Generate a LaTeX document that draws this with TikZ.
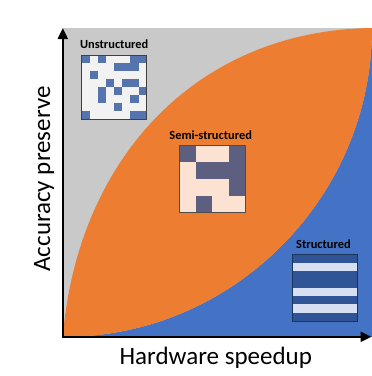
\documentclass[tikz,border=0pt]{standalone}
\usepackage{fontspec}
\setmainfont{Carlito}
\usepackage{tikz}
\usetikzlibrary{arrows.meta,positioning}
\definecolor{RegionGray}{HTML}{C9C9C9}
\definecolor{LensOrange}{HTML}{ED7D31}
\definecolor{SpeedBlue}{HTML}{4472C4}
\definecolor{CellPale}{HTML}{F2F2F2}
\definecolor{CellBlue}{HTML}{5573AC}
\definecolor{SemiSlate}{HTML}{5D5F80}
\definecolor{SemiPeach}{HTML}{FBE2D3}
\definecolor{StripeDark}{HTML}{2F5597}
\definecolor{StripeLight}{HTML}{D7E0F2}
\newcommand{\masklabel}[3]{%
  \node[font=\bfseries\fontsize{12.4}{14}\selectfont, inner sep=0pt,#3] (#1) {#2};}

\begin{document}
\begin{tikzpicture}[x=1pt, y=-1pt, >={Triangle[length=11pt,width=10pt]},
    axisline/.style={line width=2pt},
    maskedge/.style={draw=#1, line width=0.8pt},
    axistitle/.style={font=\fontsize{25}{30}\selectfont, inner sep=0pt, anchor=base}]
    \useasboundingbox (0,0) rectangle (372,376);
    % regions
    \fill[RegionGray] (62.8,28) rectangle (372,336.8);
    \fill[SpeedBlue] (62.8,336.8) .. controls (230,338) and (372,200) .. (372,28)
      -- (372,336.8) -- cycle;
    \fill[LensOrange] (62.8,336.8) .. controls (78,155) and (200,30) .. (372,28)
      .. controls (372,200) and (230,338) .. (62.8,336.8) -- cycle;
    % axes
    \draw[axisline,->] (62.8,337.8) -- (62.8,28);
    \draw[axisline,->] (61.8,336.8) -- (371.5,336.8);
    \node[axistitle] (speedup) at (215.8,364) {Hardware speedup};
    \node[axistitle, rotate=90] (accuracy) at (50,179) {Accuracy preserve};
    % unstructured mask
    \masklabel{unstruct}{Unstructured}{at={(114.2,44)}}
    \begin{scope}[shift={(81.7,55)}, x=8.12pt, y=-8.04pt]
      \fill[CellPale] (0,0) rectangle (8,8);
      \foreach \c/\r in {0/0,2/0,6/0,7/0,4/1,5/1,6/1,1/2,3/3,5/3,6/3,
                         2/4,4/4,7/4,2/5,6/5,4/6,0/7,6/7,7/7}
        \fill[CellBlue] (\c,\r) rectangle ++(1,1);
      \draw[maskedge=black!75] (0,0) rectangle (8,8);
    \end{scope}
    % semi-structured mask
    \masklabel{semistruct}{Semi-structured}{at={(210.7,135.5)}}
    \begin{scope}[shift={(179.3,145.7)}, x=16.43pt, y=-16.65pt]
      \fill[SemiPeach] (0,0) rectangle (4,4);
      \foreach \c/\r in {0/0,3/0,1/1,2/1,3/1,3/2,1/3}
        \fill[SemiSlate] (\c,\r) rectangle ++(1,1);
      \draw[maskedge=black!70] (0,0) rectangle (4,4);
    \end{scope}
    % structured mask
    \masklabel{struct}{Structured}{at={(323.5,244)}}
    \begin{scope}[shift={(292.3,254.3)}, x=65.4pt, y=-8.34pt]
      \fill[StripeDark] (0,0) rectangle (1,8);
      \foreach \r in {1,4,6}
        \fill[StripeLight] (0,\r) rectangle ++(1,1);
      \draw[maskedge=StripeDark!60!black] (0,0) rectangle (1,8);
    \end{scope}
  \end{tikzpicture}
\end{document}
